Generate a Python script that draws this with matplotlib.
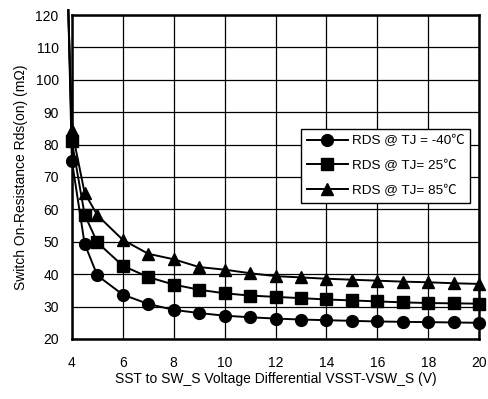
import matplotlib.pyplot as plt
import numpy as np

plt.rcParams['font.family'] = ['Liberation Sans', 'Noto Sans CJK SC']

# voltage points (first point is the tail of the curve above 120 mOhm)
vsst = [3.86, 4, 4.5, 5, 6, 7, 8, 9, 10, 11, 12, 13, 14, 15, 16, 17, 18, 19, 20]

rds_m40 = [121.5, 75, 49.4, 39.6, 33.7, 30.8, 29.0, 28.0, 27.2, 26.7, 26.3, 26.0, 25.8,
           25.6, 25.4, 25.3, 25.2, 25.1, 25.0]
rds_25 = [121.5, 81, 58.4, 49.8, 42.6, 39.1, 36.8, 35.2, 34.1, 33.4, 33.0, 32.6, 32.2,
          31.9, 31.6, 31.3, 31.1, 31.0, 30.9]
rds_85 = [121.5, 84.5, 65.1, 58.2, 50.6, 46.3, 44.6, 42.2, 41.4, 40.3, 39.4, 39.0, 38.6,
          38.3, 38.0, 37.7, 37.5, 37.2, 37.0]

labels = ["RDS @ TJ = -40\u2103", "RDS @ TJ= 25\u2103", "RDS @ TJ= 85\u2103"]

fig = plt.figure(figsize=(4.89, 3.99), dpi=100)
ax = fig.add_axes([0.147, 0.1504, 0.833, 0.812])

series = [(rds_m40, 'o', 8.5), (rds_25, 's', 8.0), (rds_85, '^', 8.5)]
for (vals, mk, ms), lab in zip(series, labels):
    ax.plot(vsst, vals, color='black', lw=1.4, marker=mk, ms=ms,
            markevery=list(range(1, len(vsst))), label=lab, clip_on=False, zorder=3)

ax.set_xlim(4, 20)
ax.set_ylim(20, 120)
ax.set_xticks(np.arange(4, 21, 2))
ax.set_yticks(np.arange(20, 121, 10))
ax.grid(True, color='black', lw=0.9)
ax.tick_params(length=0, labelsize=10)
ax.tick_params(axis='x', pad=12)
ax.tick_params(axis='y', pad=9.5)
for sp in ax.spines.values():
    sp.set_linewidth(1.8)

ax.set_xlabel("SST to SW_S Voltage Differential VSST-VSW_S (V)", fontsize=10, labelpad=2)
ax.set_ylabel("Switch On-Resistance Rds(on) (m\u03a9)", fontsize=10, labelpad=5)

leg = ax.legend(loc='upper left', bbox_to_anchor=(0.5627, 0.648), fontsize=9.7,
                frameon=True, fancybox=False, edgecolor='black', framealpha=1,
                handlelength=3.0, borderpad=0.45, labelspacing=0.9, handletextpad=0.3,
                borderaxespad=0)
leg.get_frame().set_linewidth(1.0)

fig.savefig("out.png", dpi=100)
